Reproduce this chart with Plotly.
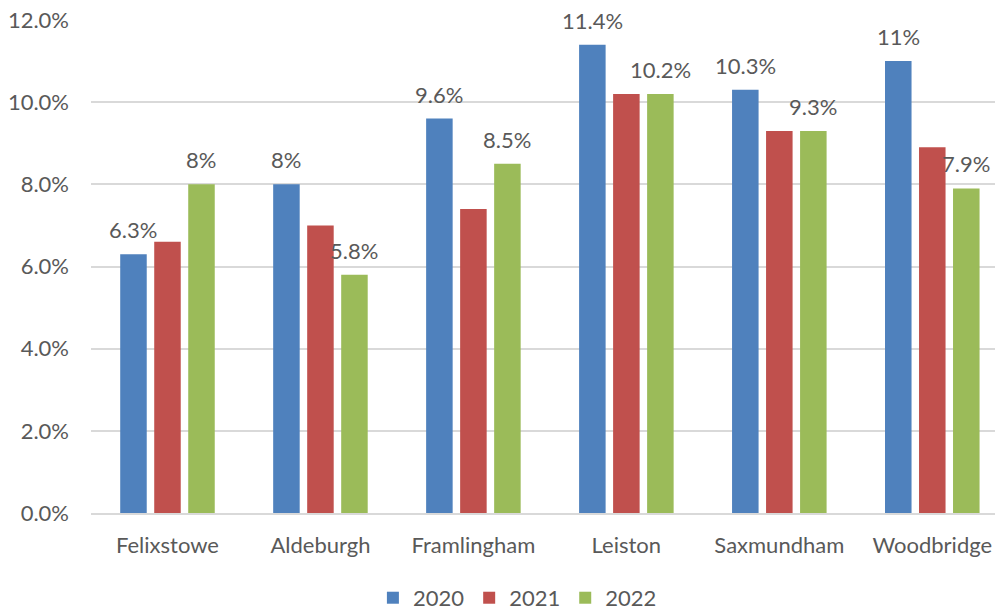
import plotly.graph_objects as go

towns = ["Felixstowe", "Aldeburgh", "Framlingham", "Leiston", "Saxmundham", "Woodbridge"]
years = ["2020", "2021", "2022"]
v2020 = [6.3, 8.0, 9.6, 11.4, 10.3, 11.0]
v2021 = [6.6, 7.0, 7.4, 10.2, 9.3, 8.9]
v2022 = [8.0, 5.8, 8.5, 10.2, 9.3, 7.9]
labels2020 = ["6.3%", "8%", "9.6%", "11.4%", "10.3%", "11%"]
labels2022 = ["8%", "5.8%", "8.5%", "10.2%", "9.3%", "7.9%"]
y_ticks = [0, 2, 4, 6, 8, 10, 12]
y_tick_text = ["0.0%", "2.0%", "4.0%", "6.0%", "8.0%", "10.0%", "12.0%"]
colors = ["#4F81BD", "#C0504D", "#9BBB59"]

FONT = "Lato"
TXT = "#595959"
FS = 22

fig = go.Figure()
for name, vals, col in zip(years, [v2020, v2021, v2022], colors):
    fig.add_trace(go.Bar(name=name, x=towns, y=vals, marker=dict(color=col, line=dict(width=0)),
                         hoverinfo="x+y"))

annotations = []
for town, v, t in zip(towns, v2020, labels2020):
    annotations.append(dict(x=town, y=v, text=t, xref="x", yref="y", showarrow=False,
                            xshift=-34, yshift=9, yanchor="bottom",
                            font=dict(family=FONT, size=FS, color=TXT)))
for town, v, t in zip(towns, v2022, labels2022):
    annotations.append(dict(x=town, y=v, text=t, xref="x", yref="y", showarrow=False,
                            xshift=34, yshift=9, yanchor="bottom",
                            font=dict(family=FONT, size=FS, color=TXT)))

fig.update_layout(
    width=995, height=612,
    margin=dict(l=91, r=0, t=20, b=99, autoexpand=False),
    paper_bgcolor="white", plot_bgcolor="white",
    barmode="group", bargap=0.333, bargroupgap=0.22,
    font=dict(family=FONT, size=FS, color=TXT),
    annotations=annotations,
    legend=dict(orientation="h", xref="container", yref="container",
                x=0.52, xanchor="center", y=0.023, yanchor="middle",
                font=dict(family=FONT, size=FS, color=TXT), itemwidth=30,
                traceorder="normal"),
    showlegend=True,
)
fig.update_xaxes(range=[-0.5, 5.41], showgrid=False, showline=True, linecolor="#D9D9D9",
                 linewidth=2, ticks="", ticklabelstandoff=12,
                 tickfont=dict(family=FONT, size=FS, color=TXT), fixedrange=True)
fig.update_yaxes(range=[0, 12], tickvals=y_ticks, ticktext=y_tick_text, showgrid=True,
                 gridcolor="#D9D9D9", gridwidth=2, zeroline=False, showline=False,
                 ticks="", ticklabelstandoff=21,
                 tickfont=dict(family=FONT, size=FS, color=TXT), fixedrange=True)

fig.write_html(
    "out.html",
    config={"displayModeBar": False},
    post_script="document.body.style.margin='0';document.body.style.overflow='hidden';",
)
